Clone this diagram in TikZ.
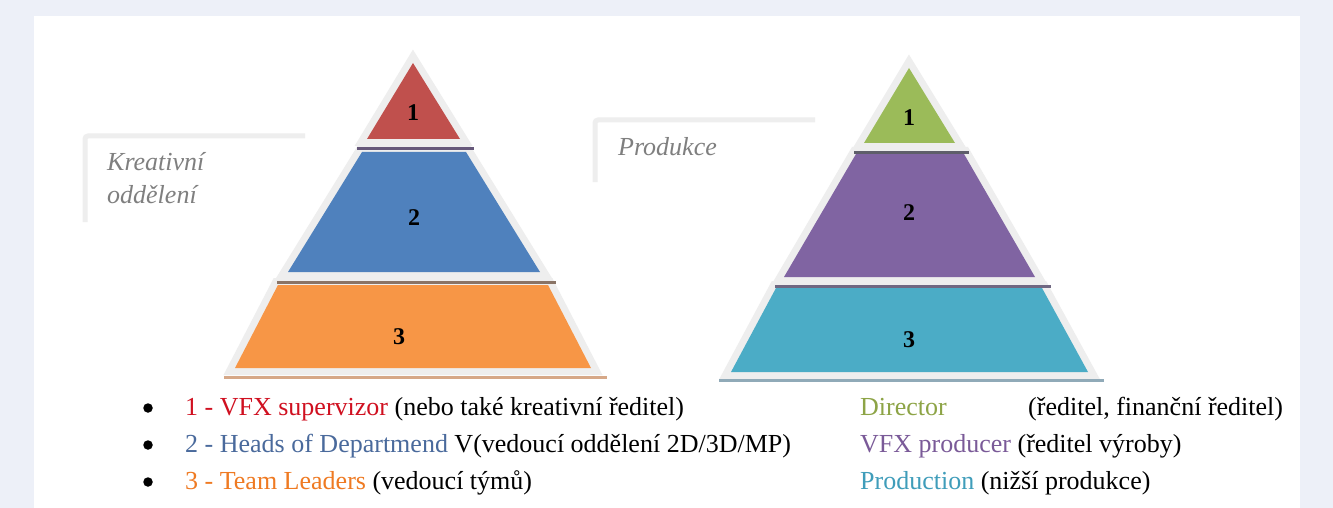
\documentclass[tikz,border=0pt]{standalone}
\usepackage{fontspec}
\setmainfont{Liberation Serif}
\usepackage{xcolor}
\definecolor{pageBg}{HTML}{EDF0F8}
\definecolor{rimGray}{HTML}{EEEEEE}
\definecolor{labelGray}{HTML}{7F7F7F}
\definecolor{lvlRed}{HTML}{C0504D}
\definecolor{lvlBlue}{HTML}{4F81BD}
\definecolor{lvlOrange}{HTML}{F79646}
\definecolor{lvlGreen}{HTML}{9BBB59}
\definecolor{lvlPurple}{HTML}{8064A2}
\definecolor{lvlTeal}{HTML}{4BACC6}
\definecolor{shadeRed}{HTML}{66587A}
\definecolor{shadeBlue}{HTML}{8A7466}
\definecolor{shadeOrange}{HTML}{D6A888}
\definecolor{shadeGreen}{HTML}{5E5E6A}
\definecolor{shadePurple}{HTML}{706882}
\definecolor{shadeTeal}{HTML}{90AAB8}
\definecolor{txtRed}{HTML}{D01020}
\definecolor{txtBlue}{HTML}{4A6A9C}
\definecolor{txtOrange}{HTML}{EF7A22}
\definecolor{txtGreen}{HTML}{8DA446}
\definecolor{txtPurple}{HTML}{7A5A98}
\definecolor{txtTeal}{HTML}{3F9DBA}
\tikzset{
  rim/.style={preaction={draw=rimGray, line width=14pt, line join=miter}},
  lvlnum/.style={font=\fontsize{24}{24}\selectfont\bfseries, inner sep=0pt},
  bracket/.style={draw=rimGray, line width=5pt, rounded corners=3pt},
  sidelabel/.style={anchor=base west, inner sep=0pt, text=labelGray, font=\fontsize{26}{30}\selectfont\itshape},
  listtext/.style={anchor=base west, inner sep=0pt, font=\fontsize{26}{30}\selectfont},
  listdot/.style={circle, fill=black, inner sep=0pt, minimum size=9.5pt},
}

\begin{document}
\begin{tikzpicture}[x=1pt, y=-1pt]
  \useasboundingbox (0,0) rectangle (1333,508);
  \fill[pageBg] (0,0) rectangle (1333,508);
  \fill[white] (34,16) rectangle (1300,508);

  % left pyramid
  \fill[lvlOrange, rim] (278,285) -- (548,285) -- (591,368) -- (235,368) -- cycle;
  \fill[lvlBlue, rim] (362,152) -- (466,152) -- (540,272) -- (288,272) -- cycle;
  \fill[lvlRed, rim] (413,63) -- (460,139) -- (367,139) -- cycle;
  \fill[shadeRed] (357,147) rectangle (474,150);
  \fill[shadeBlue] (277,281) rectangle (556,284);
  \fill[shadeOrange] (224,376) rectangle (607,379);
  \node[lvlnum] (leftA) at (413,113) {1};
  \node[lvlnum] (leftB) at (414,218) {2};
  \node[lvlnum] (leftC) at (399,337) {3};

  % right pyramid
  \fill[lvlTeal, rim] (776,288) -- (1042,288) -- (1088,372) -- (731,372) -- cycle;
  \fill[lvlPurple, rim] (856,154) -- (964,154) -- (1035,277) -- (784,277) -- cycle;
  \fill[lvlGreen, rim] (909,68) -- (955,143) -- (864,143) -- cycle;
  \fill[shadeGreen] (854,151) rectangle (969,154);
  \fill[shadePurple] (775,285) rectangle (1051,288);
  \fill[shadeTeal] (719,379) rectangle (1104,382);
  \node[lvlnum] (rightA) at (909,118) {1};
  \node[lvlnum] (rightB) at (909,213) {2};
  \node[lvlnum] (rightC) at (909,340) {3};

  % side labels
  \draw[bracket] (85,222) -- (85,136) -- (305,136);
  \node[sidelabel] (kreativ) at (107,170) {Kreativní};
  \node[sidelabel] (oddel) at (107,203) {oddělení};
  \draw[bracket] (595,182) -- (595,120) -- (815,120);
  \node[sidelabel] (produkce) at (618,155) {Produkce};

  % legend, left column
  \node[listdot] (dotA) at (148,408) {};
  \node[listdot] (dotB) at (148,445) {};
  \node[listdot] (dotC) at (148,482) {};
  \node[listtext] (itemA) at (185,415) {\textcolor{txtRed}{1 - VFX supervizor} (nebo také kreativní ředitel)};
  \node[listtext] (itemB) at (185,452) {\textcolor{txtBlue}{2 - Heads of Departmend} V(vedoucí oddělení 2D/3D/MP)};
  \node[listtext] (itemC) at (185,489) {\textcolor{txtOrange}{3 - Team Leaders} (vedoucí týmů)};

  % legend, right column
  \node[listtext, text=txtGreen] (roleA) at (860,415) {Director};
  \node[listtext] (roleAnote) at (1028,415) {(ředitel, finanční ředitel)};
  \node[listtext] (roleB) at (860,452) {\textcolor{txtPurple}{VFX producer} (ředitel výroby)};
  \node[listtext] (roleC) at (860,489) {\textcolor{txtTeal}{Production} (nižší produkce)};
\end{tikzpicture}
\end{document}
